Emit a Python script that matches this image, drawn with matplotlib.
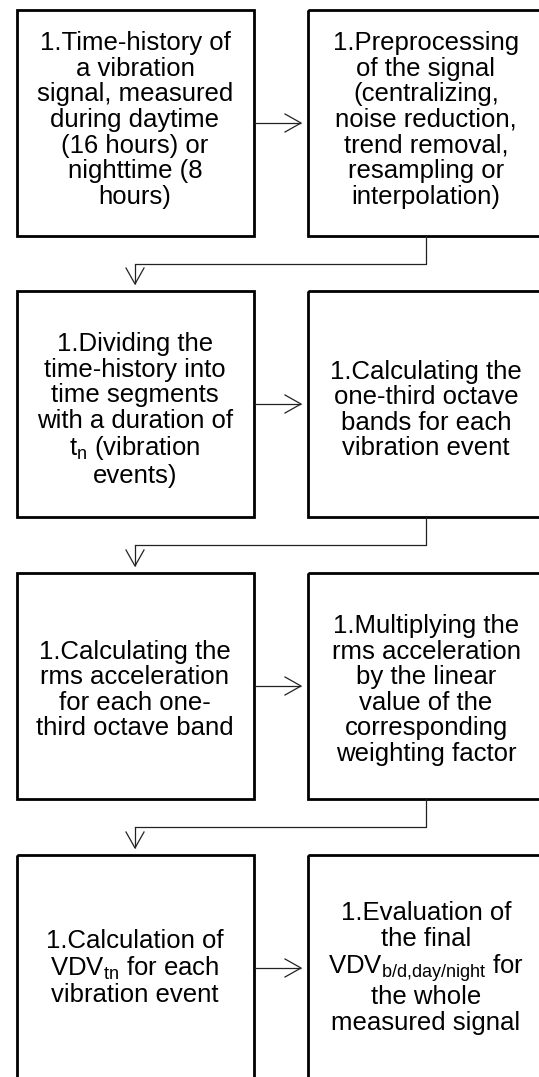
import matplotlib
matplotlib.use("Agg")
import matplotlib.pyplot as plt
from matplotlib.patches import Rectangle

plt.rcParams['font.family'] = ['Liberation Sans', 'DejaVu Sans']
plt.rcParams['mathtext.fontset'] = 'custom'
plt.rcParams['mathtext.rm'] = 'Liberation Sans'
plt.rcParams['mathtext.it'] = 'Liberation Sans:italic'
plt.rcParams['mathtext.bf'] = 'Liberation Sans:bold'

# ---- content ----
left_texts = [
    "1.Time-history of\na vibration\nsignal, measured\nduring daytime\n(16 hours) or\nnighttime (8\nhours)",
    "1.Dividing the\ntime-history into\ntime segments\nwith a duration of\nt$_\\mathrm{n}$ (vibration\nevents)",
    "1.Calculating the\nrms acceleration\nfor each one-\nthird octave band",
    "1.Calculation of\nVDV$_\\mathrm{tn}$ for each\nvibration event",
]
right_texts = [
    "1.Preprocessing\nof the signal\n(centralizing,\nnoise reduction,\ntrend removal,\nresampling or\ninterpolation)",
    "1.Calculating the\none-third octave\nbands for each\nvibration event",
    "1.Multiplying the\nrms acceleration\nby the linear\nvalue of the\ncorresponding\nweighting factor",
    "1.Evaluation of\nthe final\nVDV$_\\mathrm{b/d{,}day/night}$ for\nthe whole\nmeasured signal",
]

# ---- layout (pixels) ----
W, H = 539, 1077
row_tops = [10, 291, 573, 855]
box_h = 226
left_x0, right_x0, box_w = 16.5, 307.5, 237
text_dy = [-3, 6, 4, 0]
fs = 18.5
box_lw = 2.0
con_lw = 0.9
head_len, head_half = 16, 9

fig = plt.figure(figsize=(W / 100, H / 100), dpi=100)
ax = fig.add_axes([0, 0, 1, 1])
ax.set_xlim(0, W)
ax.set_ylim(H, 0)
ax.axis('off')

def arrow(x0, y0, x1, y1):
    ax.plot([x0, x1], [y0, y1], color='#222222', lw=con_lw, solid_capstyle='butt')
    if x0 == x1:  # vertical, pointing down
        ax.plot([x1 - head_half, x1, x1 + head_half],
                [y1 - head_len, y1, y1 - head_len], color='#222222', lw=con_lw)
    else:  # horizontal, pointing right
        ax.plot([x1 - head_len, x1, x1 - head_len],
                [y1 - head_half, y1, y1 + head_half], color='#222222', lw=con_lw)

lcx = left_x0 + box_w / 2
rcx = right_x0 + box_w / 2
for i, top in enumerate(row_tops):
    for x0, txt, cx in [(left_x0, left_texts[i], lcx), (right_x0, right_texts[i], rcx)]:
        ax.add_patch(Rectangle((x0, top), box_w, box_h, fill=False,
                               edgecolor='black', lw=box_lw, joinstyle='miter'))
        ax.text(cx, top + box_h / 2 + text_dy[i], txt, ha='center', va='center',
                fontsize=fs, linespacing=1.08, color='black', multialignment='center')
    cy = top + box_h / 2
    arrow(left_x0 + box_w, cy, right_x0 - 6.5, cy)
    if i < len(row_tops) - 1:
        bot = top + box_h
        mid = bot + (row_tops[i + 1] - bot) / 2
        ax.plot([rcx, rcx, lcx], [bot, mid, mid], color='#222222', lw=con_lw)
        arrow(lcx, mid, lcx, row_tops[i + 1] - 7)

fig.savefig("out.png", dpi=100)
